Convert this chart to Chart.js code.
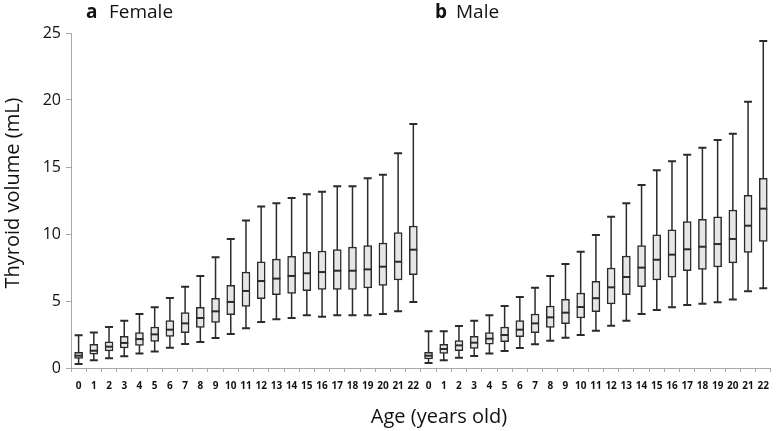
<!DOCTYPE html>
<html lang="en">
<head>
    <meta charset="UTF-8">
    <title>Thyroid volume by age</title>
    <script src="https://cdn.jsdelivr.net/npm/chart.js"></script>
    <style>
        html, body { margin: 0; padding: 0; background: #ffffff; }
        #wrap { width: 777px; height: 431px; }
    </style>
</head>
<body>
    <div id="wrap"><canvas id="thyroidChart" width="777" height="431"></canvas></div>

    <script>
        // Age categories (same for both panels)
        const ages = ['0', '1', '2', '3', '4', '5', '6', '7', '8', '9', '10', '11',
                      '12', '13', '14', '15', '16', '17', '18', '19', '20', '21', '22'];

        // a Female (mL)
        const femaleMin    = [0.30, 0.57, 0.72, 0.87, 1.09, 1.24, 1.52, 1.79, 1.94, 2.24, 2.54, 2.96, 3.43, 3.63, 3.73, 3.93, 3.83, 3.93, 3.93, 3.93, 4.03, 4.23, 4.93];
        const femaleQ1     = [0.72, 1.04, 1.27, 1.49, 1.69, 1.99, 2.36, 2.64, 3.03, 3.41, 3.98, 4.60, 5.17, 5.47, 5.57, 5.77, 5.87, 5.87, 5.87, 5.97, 6.17, 6.57, 6.96];
        const femaleMedian = [0.92, 1.29, 1.59, 1.87, 2.16, 2.51, 2.86, 3.33, 3.73, 4.23, 4.93, 5.75, 6.49, 6.67, 6.87, 7.07, 7.16, 7.26, 7.26, 7.36, 7.56, 7.93, 8.83];
        const femaleQ3     = [1.17, 1.77, 1.96, 2.36, 2.64, 3.06, 3.53, 4.13, 4.53, 5.20, 6.17, 7.16, 7.93, 8.13, 8.33, 8.63, 8.73, 8.83, 9.03, 9.13, 9.33, 10.10, 10.60];
        const femaleMax    = [2.45, 2.64, 3.06, 3.53, 4.03, 4.53, 5.22, 6.07, 6.87, 8.26, 9.63, 11.00, 12.06, 12.29, 12.69, 12.96, 13.16, 13.56, 13.56, 14.16, 14.43, 16.02, 18.21];

        // b Male (mL)
        const maleMin    = [0.37, 0.57, 0.77, 0.90, 1.09, 1.27, 1.49, 1.77, 2.04, 2.26, 2.46, 2.78, 3.16, 3.53, 4.03, 4.33, 4.53, 4.70, 4.80, 4.90, 5.12, 5.72, 5.95];
        const maleQ1     = [0.67, 1.09, 1.29, 1.47, 1.77, 1.96, 2.34, 2.64, 3.03, 3.31, 3.73, 4.20, 4.78, 5.47, 6.07, 6.57, 6.77, 7.26, 7.36, 7.54, 7.84, 8.63, 9.45];
        const maleMedian = [0.92, 1.42, 1.69, 1.89, 2.19, 2.46, 2.86, 3.33, 3.78, 4.13, 4.55, 5.21, 6.02, 6.79, 7.49, 8.08, 8.46, 8.86, 9.05, 9.25, 9.63, 10.62, 11.89];
        const maleQ3     = [1.17, 1.77, 2.04, 2.36, 2.64, 3.06, 3.53, 4.03, 4.63, 5.12, 5.60, 6.47, 7.46, 8.36, 9.13, 9.93, 10.32, 10.92, 11.10, 11.29, 11.79, 12.89, 14.15];
        const maleMax    = [2.74, 2.74, 3.13, 3.53, 3.93, 4.63, 5.30, 5.99, 6.87, 7.76, 8.68, 9.93, 11.29, 12.29, 13.66, 14.75, 15.42, 15.92, 16.44, 17.01, 17.49, 19.87, 24.40];

        // Both panels share one y axis, so just put them side by side
        const labels = ages.concat(ages);
        const allMin = femaleMin.concat(maleMin);
        const allQ1 = femaleQ1.concat(maleQ1);
        const allMedian = femaleMedian.concat(maleMedian);
        const allQ3 = femaleQ3.concat(maleQ3);
        const allMax = femaleMax.concat(maleMax);

        const lineColor = '#2b2b2b';
        const axisColor = '#a8a8a8';
        const fontName = '"Open Sans", "Noto Sans", sans-serif';

        // whiskers, caps, medians and the text around the plot
        const boxParts = {
            id: 'boxParts',
            beforeDatasetsDraw(chart) {
                const ctx = chart.ctx;
                const x = chart.scales.x, y = chart.scales.y;
                const bars = chart.getDatasetMeta(0).data;
                ctx.save();
                ctx.strokeStyle = lineColor;
                for (let i = 0; i < labels.length; i++) {
                    const cx = x.getPixelForValue(i);
                    const half = bars[i].width / 2;
                    const yMin = y.getPixelForValue(allMin[i]);
                    const yMax = y.getPixelForValue(allMax[i]);
                    ctx.lineWidth = 1.5;
                    ctx.beginPath();
                    ctx.moveTo(cx, yMin);
                    ctx.lineTo(cx, yMax);
                    ctx.stroke();
                    ctx.lineWidth = 2;
                    ctx.beginPath();
                    ctx.moveTo(cx - half, yMin);
                    ctx.lineTo(cx + half, yMin);
                    ctx.moveTo(cx - half, yMax);
                    ctx.lineTo(cx + half, yMax);
                    ctx.stroke();
                }
                ctx.restore();
            },
            afterDatasetsDraw(chart) {
                const ctx = chart.ctx;
                const x = chart.scales.x, y = chart.scales.y;
                const bars = chart.getDatasetMeta(0).data;
                ctx.save();
                ctx.strokeStyle = lineColor;
                ctx.lineWidth = 2;
                for (let i = 0; i < labels.length; i++) {
                    const cx = x.getPixelForValue(i);
                    const half = bars[i].width / 2;
                    const ym = y.getPixelForValue(allMedian[i]);
                    ctx.beginPath();
                    ctx.moveTo(cx - half, ym);
                    ctx.lineTo(cx + half, ym);
                    ctx.stroke();
                }
                ctx.restore();
            },
            afterDraw(chart) {
                const ctx = chart.ctx;
                ctx.save();
                ctx.fillStyle = '#111111';
                ctx.textBaseline = 'alphabetic';
                ctx.textAlign = 'left';
                // panel titles
                ctx.font = 'bold 19px ' + fontName;
                ctx.fillText('a', 86, 18);
                ctx.fillText('b', 435, 18);
                ctx.font = '19px ' + fontName;
                ctx.fillText('Female', 109, 18);
                ctx.fillText('Male', 456, 18);
                // axis titles
                ctx.font = '20px ' + fontName;
                ctx.textAlign = 'center';
                ctx.textBaseline = 'middle';
                ctx.fillText('Age (years old)', 439, 417);
                ctx.translate(13, 193);
                ctx.rotate(-Math.PI / 2);
                ctx.fillText('Thyroid volume (mL)', 0, 0);
                ctx.restore();
            }
        };

        const ctx = document.getElementById('thyroidChart').getContext('2d');
        const chart = new Chart(ctx, {
            type: 'bar',
            data: {
                labels: labels,
                datasets: [{
                    label: 'IQR',
                    data: allQ1.map((q, i) => [q, allQ3[i]]),
                    backgroundColor: '#e6e6e6',
                    borderColor: lineColor,
                    borderWidth: 1.5,
                    borderSkipped: false,
                    barThickness: 8
                }]
            },
            options: {
                responsive: false,
                animation: false,
                layout: {
                    padding: { top: 33, right: 1, left: 0, bottom: 0 }
                },
                plugins: {
                    legend: { display: false },
                    tooltip: { enabled: false }
                },
                scales: {
                    x: {
                        offset: true,
                        afterFit(scale) { scale.height = 63; },
                        border: { color: axisColor, width: 1 },
                        grid: {
                            offset: true,
                            drawOnChartArea: false,
                            drawTicks: true,
                            tickLength: 4,
                            color: axisColor
                        },
                        ticks: {
                            autoSkip: false,
                            maxRotation: 0,
                            padding: 8,
                            color: '#111111',
                            font: { family: fontName, size: 10, weight: 'bold' }
                        }
                    },
                    y: {
                        min: 0,
                        max: 25,
                        afterFit(scale) { scale.width = 71; },
                        border: { color: axisColor, width: 1 },
                        grid: {
                            drawOnChartArea: false,
                            tickLength: 5,
                            color: axisColor
                        },
                        ticks: {
                            stepSize: 5,
                            padding: 5,
                            color: '#111111',
                            font: { family: fontName, size: 16 }
                        }
                    }
                }
            },
            plugins: [boxParts]
        });
    </script>
</body>
</html>
